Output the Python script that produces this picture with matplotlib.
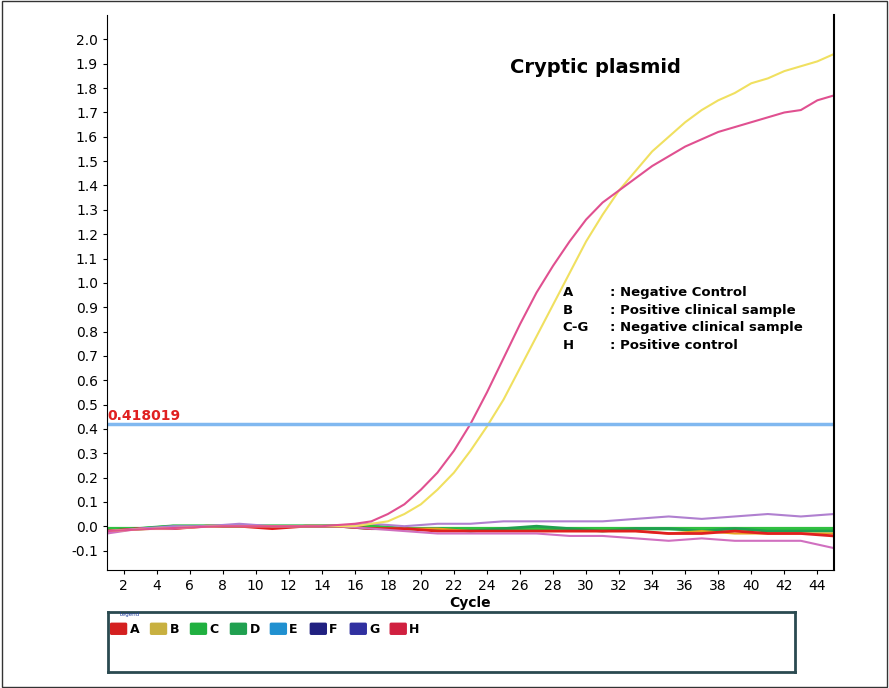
import matplotlib
matplotlib.use("Agg")
import matplotlib.pyplot as plt
from matplotlib.patches import Rectangle, FancyBboxPatch

# amplification curves (cycle -> fluorescence)
cyc_pos = [1, 4, 8, 12, 14, 16, 17, 18, 19, 20, 21, 22, 23, 24, 25, 26, 27, 28, 29, 30,
           31, 32, 33, 34, 35, 36, 37, 38, 39, 40, 41, 42, 43, 44, 45]
h_vals = [-0.02, -0.01, 0.0, 0.0, 0.0, 0.01, 0.02, 0.05, 0.09, 0.15, 0.22, 0.31, 0.42, 0.55,
          0.69, 0.83, 0.96, 1.07, 1.17, 1.26, 1.33, 1.38, 1.43, 1.48, 1.52, 1.56, 1.59, 1.62,
          1.64, 1.66, 1.68, 1.70, 1.71, 1.75, 1.77]
b_vals = [-0.02, -0.01, 0.0, 0.0, 0.0, 0.0, 0.01, 0.02, 0.05, 0.09, 0.15, 0.22, 0.31, 0.41,
          0.52, 0.65, 0.78, 0.91, 1.04, 1.17, 1.28, 1.38, 1.46, 1.54, 1.60, 1.66, 1.71, 1.75,
          1.78, 1.82, 1.84, 1.87, 1.89, 1.91, 1.94]

cyc_flat = [1, 3, 5, 7, 9, 11, 13, 15, 17, 19, 21, 23, 25, 27, 29, 31, 33, 35, 37, 39, 41, 43, 45]
a_vals = [-0.02, -0.01, -0.01, 0.0, 0.0, -0.01, 0.0, 0.0, -0.01, -0.01, -0.02, -0.02, -0.02,
          -0.02, -0.02, -0.02, -0.02, -0.03, -0.03, -0.02, -0.03, -0.03, -0.04]
c_vals = [-0.01, -0.01, 0.0, 0.0, 0.0, 0.0, 0.0, 0.0, 0.0, -0.01, -0.01, -0.01, -0.01, -0.01,
          -0.01, -0.01, -0.01, -0.01, -0.01, -0.01, -0.01, -0.01, -0.01]
d_vals = [-0.02, -0.01, 0.0, 0.0, 0.0, 0.0, 0.0, 0.0, -0.01, -0.01, -0.01, -0.02, -0.01, 0.0,
          -0.01, -0.02, -0.01, -0.01, -0.02, -0.01, -0.02, -0.02, -0.02]
e_vals = [-0.02, -0.01, -0.01, 0.0, 0.0, 0.0, 0.0, 0.0, -0.01, -0.01, -0.01, -0.02, -0.02,
          -0.02, -0.02, -0.02, -0.02, -0.03, -0.02, -0.03, -0.03, -0.03, -0.03]
f_vals = [-0.03, -0.01, -0.01, 0.0, 0.0, 0.0, 0.0, 0.0, -0.01, -0.02, -0.03, -0.03, -0.03,
          -0.03, -0.04, -0.04, -0.05, -0.06, -0.05, -0.06, -0.06, -0.06, -0.09]
g_vals = [-0.02, -0.01, 0.0, 0.0, 0.01, 0.0, 0.0, 0.0, 0.01, 0.0, 0.01, 0.01, 0.02, 0.02,
          0.02, 0.02, 0.03, 0.04, 0.03, 0.04, 0.05, 0.04, 0.05]

threshold = 0.418019
legend_names = ["A", "B", "C", "D", "E", "F", "G", "H"]
legend_colors = ["#d42020", "#c8b040", "#20b040", "#20a050", "#2090d0", "#202080", "#3030a0", "#d02040"]

fig = plt.figure(figsize=(8.89, 6.88), dpi=100)
fig.patches.append(Rectangle((0.002, 0.002), 0.996, 0.996, transform=fig.transFigure,
                             fill=False, edgecolor="#333333", lw=1))
ax = fig.add_axes([0.1204, 0.1715, 0.8176, 0.8065])

ax.plot(cyc_flat, c_vals, color="#30c040", lw=2.5)
ax.plot(cyc_flat, d_vals, color="#20a050", lw=2)
ax.plot(cyc_flat, e_vals, color="#e8a020", lw=1.5)
ax.plot(cyc_flat, a_vals, color="#e02020", lw=2)
ax.plot(cyc_flat, f_vals, color="#d070c0", lw=1.5)
ax.plot(cyc_flat, g_vals, color="#b080d0", lw=1.5)
ax.plot(cyc_pos, b_vals, color="#f0e060", lw=1.5)
ax.plot(cyc_pos, h_vals, color="#e05090", lw=1.5)
ax.axhline(threshold, color="#80b8f0", lw=2.5)
ax.text(1.05, threshold + 0.005, f"{threshold:.6f}", color="#e02020", fontsize=10,
        fontweight="bold", va="bottom", ha="left")

ax.set_xlim(1, 45)
ax.set_ylim(-0.18, 2.1)
ax.set_xticks(range(2, 45, 2))
ax.set_yticks([round(-0.1 + 0.1 * i, 1) for i in range(22)])
ax.set_yticklabels([f"{-0.1 + 0.1 * i:.1f}" for i in range(22)])
ax.tick_params(labelsize=10, length=3)
ax.set_xlabel("Cycle", fontsize=10, fontweight="bold", labelpad=2)
ax.spines["top"].set_visible(False)
ax.spines["right"].set_linewidth(1.5)

ax.text(0.555, 0.905, "Cryptic plasmid", transform=ax.transAxes, fontsize=14,
        fontweight="bold", va="center")
key = [("A", ": Negative Control"), ("B", ": Positive clinical sample"),
       ("C-G", ": Negative clinical sample"), ("H", ": Positive control")]
for i, (k, v) in enumerate(key):
    y = 0.50 - i * 0.0315
    ax.text(0.627, y, k, transform=ax.transAxes, fontsize=9.5, fontweight="bold", va="center")
    ax.text(0.692, y, v, transform=ax.transAxes, fontsize=9.5, fontweight="bold", va="center")

# legend box below
lg = fig.add_axes([0.121, 0.023, 0.773, 0.087])
lg.set_xlim(0, 688)
lg.set_ylim(60, 0)
lg.set_xticks([])
lg.set_yticks([])
for s in lg.spines.values():
    s.set_linewidth(2)
    s.set_color("#2a4a50")
lg.text(12, 2, "Legend", fontsize=4, color="#2040a0", va="center")
for i, (n, c) in enumerate(zip(legend_names, legend_colors)):
    x0 = 4 + i * 40
    lg.add_patch(FancyBboxPatch((x0, 12), 14, 9, boxstyle="round,pad=1",
                                facecolor=c, edgecolor=c))
    lg.text(x0 + 18, 17, n, fontsize=9, fontweight="bold", va="center")

fig.savefig("out.png", dpi=100)
